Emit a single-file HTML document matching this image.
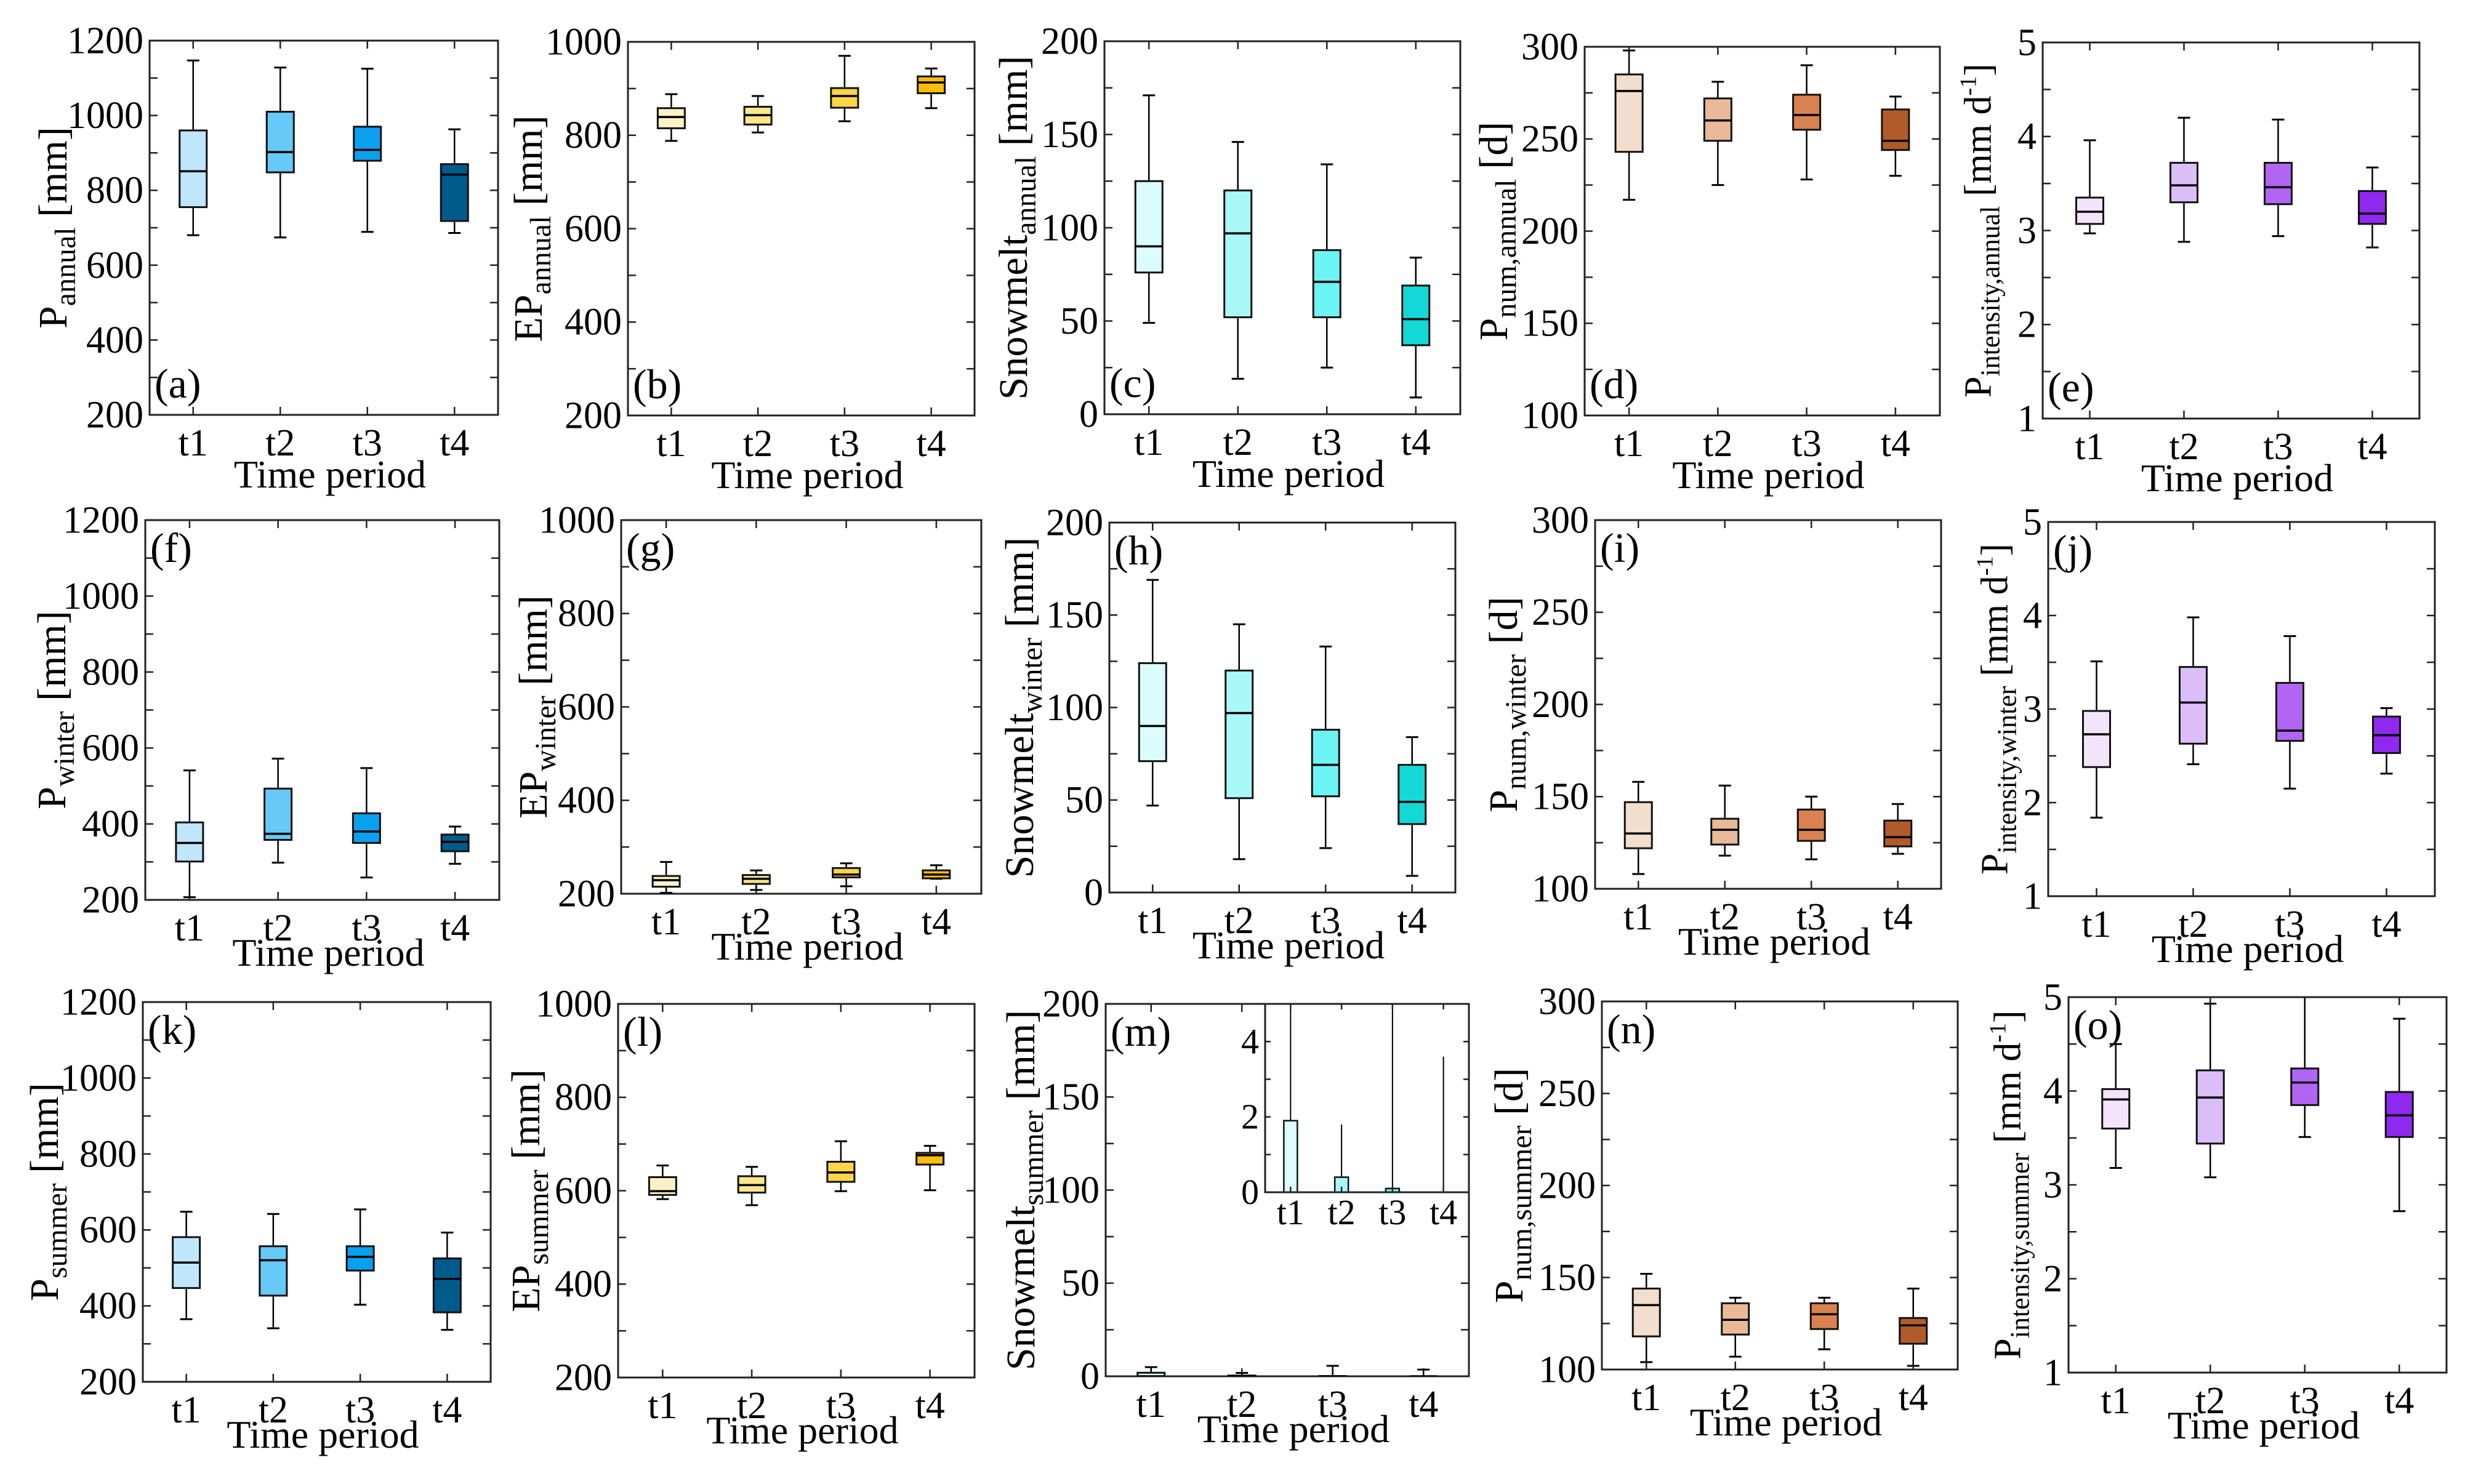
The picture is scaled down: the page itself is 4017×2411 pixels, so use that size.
<!DOCTYPE html>
<html><head><meta charset="utf-8"><style>
html,body{margin:0;padding:0;background:#fff;}
svg{display:block;font-family:"Liberation Serif","DejaVu Serif","Times New Roman",serif;}
svg text{font-family:"Liberation Serif","DejaVu Serif","Times New Roman",serif;fill:#000;}
</style></head><body>
<svg id="fig" width="4017" height="2411" viewBox="0 0 4017 2411" xmlns="http://www.w3.org/2000/svg" font-family="Liberation Serif, DejaVu Serif, serif"></svg>
<script>
// categories
const periods = ["t1","t2","t3","t4"];
// box stats per period: [low whisker, q1, median, q3, high whisker]
const pAnnual      = [[680,755,851,960,1147],[674,848,902,1010,1128],[689,879,908,970,1125],[686,718,842,870,963]];
const epAnnual     = [[788,815,839,858,888],[806,823,843,861,884],[830,859,884,901,970],[858,890,913,926,943]];
const snowAnnual   = [[49,76,90,125,171],[19,52,97,120,146],[25,52,71,88,134],[9,37,51,69,84]];
const numAnnual    = [[217,243,276,285,298],[225,249,260,272,281],[228,255,263,274,290],[230,244,249,266,273]];
const intAnnual    = [[2.97,3.07,3.20,3.35,3.96],[2.88,3.30,3.48,3.72,4.20],[2.94,3.28,3.46,3.72,4.18],[2.82,3.07,3.18,3.42,3.67]];
const pWinter      = [[207,301,350,404,541],[298,358,374,493,572],[259,350,380,428,547],[295,328,353,372,393]];
const epWinter     = [[202,215,229,238,268],[208,221,232,240,250],[216,235,241,255,265],[232,233,241,250,261]];
const snowWinter   = [[47,71,90,124,169],[18,51,97,120,145],[24,52,69,88,133],[9,37,49,69,84]];
const numWinter    = [[108,122,130,147,158],[118,124,132,138,156],[116,126,132,143,150],[119,123,128,137,146]];
const intWinter    = [[1.84,2.38,2.73,2.98,3.51],[2.41,2.63,3.07,3.45,3.98],[2.15,2.66,2.77,3.28,3.78],[2.31,2.53,2.72,2.92,3.01]];
const pSummer      = [[365,447,514,581,648],[341,427,520,557,642],[403,493,529,557,654],[337,383,471,525,593]];
const epSummer     = [[582,591,599,629,654],[569,596,612,631,651],[599,619,639,662,706],[601,656,676,681,696]];
const snowSummer   = [[0,0,0,1.9,4.9],[0,0,0,0.4,1.8],[0,0,0,0.1,5.6],[0,0,0,0,3.6]];
const numSummer    = [[104,118,135,144,152],[107,119,127,136,139],[111,122,130,136,139],[102,114,124,128,144]];
const intSummer    = [[3.18,3.60,3.91,4.02,4.50],[3.08,3.44,3.93,4.22,4.93],[3.51,3.85,4.09,4.24,5.3],[2.72,3.51,3.74,3.99,4.77]];
// y-axis tick labels
const ticksP    = [200,400,600,800,1000,1200];
const ticksEP   = [200,400,600,800,1000];
const ticksSnow = [0,50,100,150,200];
const ticksNum  = [100,150,200,250,300];
const ticksInt  = [1,2,3,4,5];
const ticksInset = [0,2,4];

const blues=["#bfe6fb","#66c9f7","#0aa0f0","#005b8d"];
const yellows=["#fdf2c6","#fde68c","#fcd548","#f8be0b"];
const cyans=["#dafcfc","#a9f8f8","#6cf3f3","#14d8d8"];
const browns=["#f3ddcd","#e9b999","#d9824f","#b15b2a"];
const purples=["#f3e4fc","#dbbdf8","#b264f3","#9029f0"];

const NS="http://www.w3.org/2000/svg";
const FF="Liberation Serif, DejaVu Serif, serif";
const svg=document.getElementById('fig');
function mk(tag,attrs,parent){const e=document.createElementNS(NS,tag);for(const k in attrs)e.setAttribute(k,attrs[k]);if(tag==='text')e.setAttribute('font-family',FF);(parent||svg).appendChild(e);return e;}

const panels=[
 {id:'a',d:pAnnual,t:ticksP,min:200,max:1200,L:243,R:809,T:66,B:674,c:blues,lx:85,m:'P',s:'annual',u:'mm',lab:'bottom',row:1},
 {id:'b',d:epAnnual,t:ticksEP,min:200,max:1000,L:1020,R:1583,T:68,B:675,c:yellows,lx:857,m:'EP',s:'annual',u:'mm',lab:'bottom',row:1},
 {id:'c',d:snowAnnual,t:ticksSnow,min:0,max:200,L:1794,R:2372,T:67,B:673,c:cyans,lx:1645,m:'Snowmelt',s:'annual',u:'mm',lab:'bottom',row:1},
 {id:'d',d:numAnnual,t:ticksNum,min:100,max:300,L:2574,R:3151,T:76,B:675,c:browns,lx:2425,m:'P',s:'num,annual',u:'d',lab:'bottom',row:1},
 {id:'e',d:intAnnual,t:ticksInt,min:1,max:5,L:3318,R:3930,T:69,B:680,c:purples,lx:3212,m:'P',s:'intensity,annual',u:'int',lab:'bottom',row:1},
 {id:'f',d:pWinter,t:ticksP,min:200,max:1200,L:236,R:811,T:845,B:1462,c:blues,lx:83,m:'P',s:'winter',u:'mm',lab:'top',row:2},
 {id:'g',d:epWinter,t:ticksEP,min:200,max:1000,L:1009,R:1594,T:845,B:1452,c:yellows,lx:865,m:'EP',s:'winter',u:'mm',lab:'top',row:2},
 {id:'h',d:snowWinter,t:ticksSnow,min:0,max:200,L:1802,R:2364,T:849,B:1450,c:cyans,lx:1655,m:'Snowmelt',s:'winter',u:'mm',lab:'top',row:2},
 {id:'i',d:numWinter,t:ticksNum,min:100,max:300,L:2591,R:3153,T:845,B:1444,c:browns,lx:2441,m:'P',s:'num,winter',u:'d',lab:'top',row:2},
 {id:'j',d:intWinter,t:ticksInt,min:1,max:5,L:3327,R:3955,T:848,B:1456,c:purples,lx:3239,m:'P',s:'intensity,winter',u:'int',lab:'top',row:2},
 {id:'k',d:pSummer,t:ticksP,min:200,max:1200,L:232,R:797,T:1628,B:2245,c:blues,lx:71,m:'P',s:'summer',u:'mm',lab:'top',row:3},
 {id:'l',d:epSummer,t:ticksEP,min:200,max:1000,L:1004,R:1583,T:1631,B:2238,c:yellows,lx:853,m:'EP',s:'summer',u:'mm',lab:'top',row:3},
 {id:'m',d:snowSummer,t:ticksSnow,min:0,max:200,L:1796,R:2386,T:1631,B:2236,c:cyans,lx:1657,m:'Snowmelt',s:'summer',u:'mm',lab:'top',row:3},
 {id:'n',d:numSummer,t:ticksNum,min:100,max:300,L:2602,R:3180,T:1627,B:2225,c:browns,lx:2450,m:'P',s:'num,summer',u:'d',lab:'top',row:3},
 {id:'o',d:intSummer,t:ticksInt,min:1,max:5,L:3360,R:3974,T:1620,B:2230,c:purples,lx:3260,m:'P',s:'intensity,summer',u:'int',lab:'top',row:3}
];

function drawBoxes(g,data,colors,xf,yf,bw,cw,clipId,sw){
  data.forEach((s,i)=>{
    const x=xf(i);
    const bg=mk('g',{'clip-path':'url(#'+clipId+')'},g);
    
    
    mk('line',{x1:x,x2:x,y1:yf(s[4]),y2:yf(s[3]),stroke:'#000','stroke-width':sw},bg);
    mk('line',{x1:x,x2:x,y1:yf(s[1]),y2:yf(s[0]),stroke:'#000','stroke-width':sw},bg);
    mk('line',{x1:x-cw/2,x2:x+cw/2,y1:yf(s[4]),y2:yf(s[4]),stroke:'#000','stroke-width':sw+0.5},bg);
    mk('line',{x1:x-cw/2,x2:x+cw/2,y1:yf(s[0]),y2:yf(s[0]),stroke:'#000','stroke-width':sw+0.5},bg);
    mk('rect',{x:x-bw/2,y:yf(s[3]),width:bw,height:Math.max(0,yf(s[1])-yf(s[3])),fill:colors[i],stroke:'#111','stroke-width':sw+0.5},bg);
    mk('line',{x1:x-bw/2,x2:x+bw/2,y1:yf(s[2]),y2:yf(s[2]),stroke:'#000','stroke-width':sw+1},bg);
  });
}

function drawAxes(g,p,xf,yf,ticks,fs,minorStep,tl){
  mk('rect',{x:p.L,y:p.T,width:p.R-p.L,height:p.B-p.T,fill:'none',stroke:'#222','stroke-width':3},g);
  for(let v=p.min;v<=p.max+1e-9;v+=minorStep){
    const y=yf(v);
    mk('line',{x1:p.L,x2:p.L+tl,y1:y,y2:y,stroke:'#222','stroke-width':2.5},g);
    mk('line',{x1:p.R,x2:p.R-tl,y1:y,y2:y,stroke:'#222','stroke-width':2.5},g);
  }
  ticks.forEach(v=>{
    const t=mk('text',{x:p.L-10,y:yf(v)+fs*0.33,'font-size':fs,'text-anchor':'end'},g);
    t.textContent=v;
    
    
  });
  periods.forEach((c,i)=>{
    const x=xf(i);
    mk('line',{x1:x,x2:x,y1:p.B,y2:p.B-tl,stroke:'#222','stroke-width':2.5},g);
    mk('line',{x1:x,x2:x,y1:p.T,y2:p.T+tl,stroke:'#222','stroke-width':2.5},g);
  });
}

panels.forEach(p=>{
  const g=mk('g',{});
  
  
  const W=p.R-p.L;
  const xf=i=>p.L+W*(i+0.5)/4;
  const yf=v=>p.B-(v-p.min)/(p.max-p.min)*(p.B-p.T);
  const cid='clip-'+p.id;
  const cp=mk('clipPath',{id:cid},g);
  mk('rect',{x:p.L,y:p.T,width:W,height:p.B-p.T},cp);
  const step=p.t[1]-p.t[0];
  drawAxes(g,p,xf,yf,p.t,62,step/2,13);
  drawBoxes(g,p.d,p.c,xf,yf,44,20,cid,2.5);
  periods.forEach((c,i)=>{
    const t=mk('text',{x:xf(i),y:p.B+66,'font-size':62,'text-anchor':'middle'},g);
    t.textContent=c;
    
    
  });
  const xt=mk('text',{x:p.L+W/2+10,y:p.B+(p.row===1?118:107),'font-size':64,'text-anchor':'middle'},g);
  xt.textContent='Time period';
  
  
  const ly=p.lab==='bottom'?p.B-28:p.T+68;
  const pl=mk('text',{x:p.L+8,y:ly,'font-size':68},g);
  pl.textContent='('+p.id+')';
  
  
  const cy=(p.T+p.B)/2;
  const isInt=p.u==='int';
  const mf=isInt?62:66, sf=isInt?44:48;
  const yl=mk('text',{x:p.lx,y:cy+mf*0.35,'font-size':mf,'text-anchor':'middle',transform:'rotate(-90 '+p.lx+' '+cy+')'},g);
  
  
  const t1=mk('tspan',{},yl);t1.textContent=p.m;
  const t2=mk('tspan',{'font-size':sf,dy:14},yl);t2.textContent=p.s;
  if(isInt){
    const t3=mk('tspan',{dy:-14},yl);t3.textContent=' [mm d';
    const t4=mk('tspan',{'font-size':38,dy:-24},yl);t4.textContent='-1';
    const t5=mk('tspan',{dy:24},yl);t5.textContent=']';
  } else {
    const t3=mk('tspan',{dy:-14},yl);t3.textContent=' ['+p.u+']';
  }

  if(p.id==='m'){
    const ip={L:2055,R:2386,T:1631,B:1937,min:0,max:5};
    const ig=mk('g',{},g);
    
    
    mk('rect',{x:ip.L,y:ip.T,width:ip.R-ip.L,height:ip.B-ip.T,fill:'#fff'},ig);
    const iW=ip.R-ip.L;
    const ixf=i=>ip.L+iW*(i+0.5)/4;
    const iyf=v=>ip.B-(v-ip.min)/(ip.max-ip.min)*(ip.B-ip.T);
    const icid='clip-inset';
    const icp=mk('clipPath',{id:icid},ig);
    mk('rect',{x:ip.L,y:ip.T,width:iW,height:ip.B-ip.T},icp);
    drawBoxes(ig,p.d,p.c,ixf,iyf,22,0,icid,2);
    drawAxes(ig,ip,ixf,iyf,ticksInset,58,1,9);
    periods.forEach((c,i)=>{
      const t=mk('text',{x:ixf(i),y:ip.B+52,'font-size':58,'text-anchor':'middle'},ig);
      t.textContent=c;
      
      
    });
  }
});
</script>
</body></html>
